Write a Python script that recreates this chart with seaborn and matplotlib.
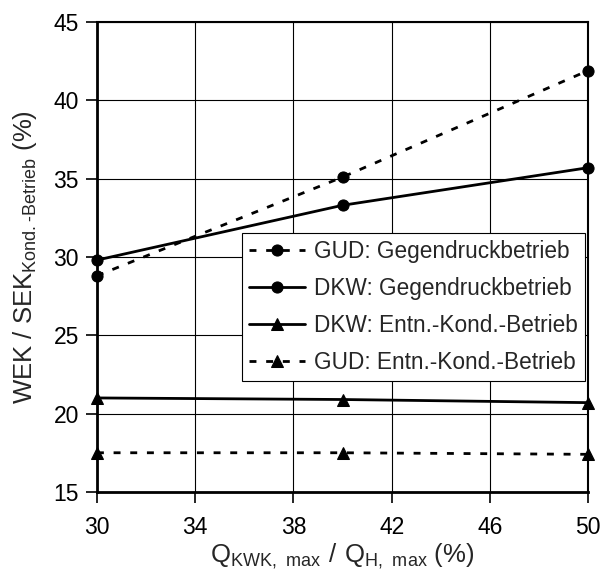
import matplotlib
matplotlib.use("Agg")
import matplotlib.pyplot as plt
import seaborn as sns
import pandas as pd

x_vals = [30, 40, 50]
gud_gegen = [28.8, 35.1, 41.9]
dkw_gegen = [29.8, 33.3, 35.7]
dkw_entn = [21.0, 20.9, 20.7]
gud_entn = [17.5, 17.5, 17.4]
labels = ["GUD: Gegendruckbetrieb", "DKW: Gegendruckbetrieb",
          "DKW: Entn.-Kond.-Betrieb", "GUD: Entn.-Kond.-Betrieb"]
x_ticks = [30, 34, 38, 42, 46, 50]
y_ticks = [15, 20, 25, 30, 35, 40, 45]

sns.set_style("white")
plt.rcParams['font.family'] = ['Liberation Sans', 'DejaVu Sans']
plt.rcParams['mathtext.fontset'] = 'custom'
plt.rcParams['mathtext.rm'] = 'Liberation Sans'

fig = plt.figure(figsize=(6.02, 5.72), dpi=100)
ax = fig.add_axes([0.161, 0.14, 0.816, 0.8215])

series = [gud_gegen, dkw_gegen, dkw_entn, gud_entn]
markers = ["o", "o", "^", "^"]
styles = [(0, (2.5, 3.5)), "-", "-", (0, (2.5, 3.5))]
for vals, lab, mk, ls in zip(series, labels, markers, styles):
    df = pd.DataFrame({"x": x_vals, "y": vals})
    sns.lineplot(data=df, x="x", y="y", ax=ax, color="black", marker=mk,
                 markersize=8, linewidth=2, linestyle=ls, label=lab,
                 markeredgecolor="black", clip_on=False, zorder=3)

ax.set_xlim(30, 50)
ax.set_ylim(15, 45)
ax.set_xticks(x_ticks)
ax.set_yticks(y_ticks)
ax.grid(True, color="black", linewidth=0.8)
for s in ax.spines.values():
    s.set_color("black")
    s.set_linewidth(1.5)
ax.spines['left'].set_linewidth(2)
ax.spines['bottom'].set_linewidth(2)
ax.tick_params(axis='both', direction='out', length=8, width=1.2,
               labelsize=16.5, colors='black', left=True, bottom=True, pad=5)
ax.tick_params(axis='x', pad=9)
ax.set_xlabel(r'$\mathregular{Q_{KWK,\ max}\ /\ Q_{H,\ max}}$ (%)', fontsize=18.5, labelpad=2)
ax.set_ylabel('WEK / SEK$\\mathregular{_{Kond.\u2010Betrieb}}$ (%)', fontsize=18.5, labelpad=10)

leg = ax.legend(loc='lower left', bbox_to_anchor=(0.295, 0.236), borderaxespad=0,
                fontsize=16.3, handlelength=2.5, labelspacing=0.62, frameon=True,
                fancybox=False, edgecolor='black', framealpha=1, borderpad=0.3,
                handletextpad=0.4)
leg.get_frame().set_linewidth(0.8)
leg.set_zorder(5)

fig.savefig("out.png", dpi=100)
